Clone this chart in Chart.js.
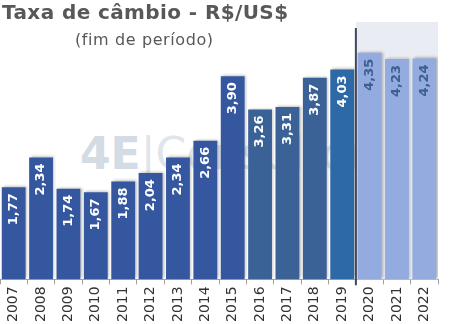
<!DOCTYPE html>
<html>
<head>
<meta charset="utf-8">
<script src="https://cdn.jsdelivr.net/npm/chart.js@4"></script>
<style>
  body { margin: 0; background: #fff; }
  #wrap { position: relative; width: 449px; height: 324px; }
  #title { position: absolute; left: 2px; top: 0px; font: bold 20px "DejaVu Sans", sans-serif; color: #585858; white-space: nowrap; letter-spacing: 0.4px; }
  #subtitle { position: absolute; left: 75px; top: 30px; font: 16px "DejaVu Sans", sans-serif; color: #585858; white-space: nowrap; letter-spacing: 0.6px; }
  #mark { position: absolute; left: 80px; top: 128px; font: bold 44px "DejaVu Sans", sans-serif; color: #d3dbe4; white-space: nowrap; z-index: -1; }
  #mark span { font-weight: normal; color: #dfe5ec; }
  canvas { position: relative; }
</style>
</head>
<body>
<div id="wrap">
  <div id="mark">4E<span>|Consultoria</span></div>
  <canvas id="chart" width="449" height="324"></canvas>
  <div id="title">Taxa de câmbio - R$/US$</div>
  <div id="subtitle">(fim de período)</div>
</div>
<script>
const years = ["2007","2008","2009","2010","2011","2012","2013","2014","2015","2016","2017","2018","2019","2020","2021","2022"];
const rates = [1.77, 2.34, 1.74, 1.67, 1.88, 2.04, 2.34, 2.66, 3.90, 3.26, 3.31, 3.87, 4.03, 4.35, 4.23, 4.24];
const barColors = ["#3457a0","#3457a0","#3457a0","#3457a0","#3457a0","#3457a0","#3457a0","#3457a0","#3457a0",
  "#3b6297","#3b6297","#3b6297","#2e69a7","#93abdf","#93abdf","#93abdf"];
const firstForecast = 13;

const canvas = document.getElementById("chart");

// fundo sombreado + linha vertical da projeção
const forecastPlugin = {
  id: "forecast",
  beforeDatasetsDraw(chart) {
    const { ctx, chartArea, scales } = chart;
    const x0 = (scales.x.getPixelForValue(firstForecast - 1) + scales.x.getPixelForValue(firstForecast)) / 2;
    ctx.save();
    ctx.fillStyle = "#e9edf3";
    ctx.fillRect(x0, chartArea.top, chartArea.right - x0, chartArea.bottom - chartArea.top);
    ctx.restore();
  },
  afterDatasetsDraw(chart) {
    const { ctx, chartArea, scales } = chart;
    const x0 = (scales.x.getPixelForValue(firstForecast - 1) + scales.x.getPixelForValue(firstForecast)) / 2;
    ctx.save();
    ctx.strokeStyle = "#3c4a5c";
    ctx.lineWidth = 2;
    ctx.beginPath();
    ctx.moveTo(x0, chartArea.top + 6);
    ctx.lineTo(x0, chartArea.bottom + 6);
    ctx.stroke();

    // rótulos dos valores
    const meta = chart.getDatasetMeta(0);
    ctx.font = "bold 13px 'DejaVu Sans', sans-serif";
    ctx.textAlign = "right";
    ctx.textBaseline = "middle";
    meta.data.forEach((bar, i) => {
      ctx.save();
      ctx.translate(bar.x, bar.y + 6);
      ctx.rotate(-Math.PI / 2);
      ctx.fillStyle = i >= firstForecast ? "#3d5f92" : "#ffffff";
      ctx.fillText(rates[i].toFixed(2).replace(".", ","), 0, 0);
      ctx.restore();
    });
    ctx.restore();
  }
};

const shadowPlugin = {
  id: "barShadow",
  beforeDatasetDraw(chart) {
    const ctx = chart.ctx;
    ctx.save();
    ctx.shadowColor = "rgba(0,0,0,0.3)";
    ctx.shadowBlur = 3;
    ctx.shadowOffsetX = 1.5;
    ctx.shadowOffsetY = -1;
  },
  afterDatasetDraw(chart) {
    chart.ctx.restore();
  }
};

new Chart(canvas, {
  type: "bar",
  data: {
    labels: years,
    datasets: [{
      data: rates,
      backgroundColor: barColors,
      barPercentage: 0.87,
      categoryPercentage: 1
    }]
  },
  options: {
    responsive: false,
    animation: false,
    layout: { padding: { left: 0, right: 11, top: 22, bottom: 0 } },
    plugins: { legend: { display: false }, tooltip: { enabled: false } },
    scales: {
      x: {
        grid: { offset: true, drawOnChartArea: false, tickLength: 5, color: "#a0a0a0" },
        border: { color: "#a0a0a0" },
        ticks: { minRotation: 90, maxRotation: 90, color: "#333", font: { family: "DejaVu Sans", size: 14 }, padding: 2 }
      },
      y: { display: false, min: 0, max: 4.94 }
    }
  },
  plugins: [forecastPlugin, shadowPlugin]
});
</script>
</body>
</html>
